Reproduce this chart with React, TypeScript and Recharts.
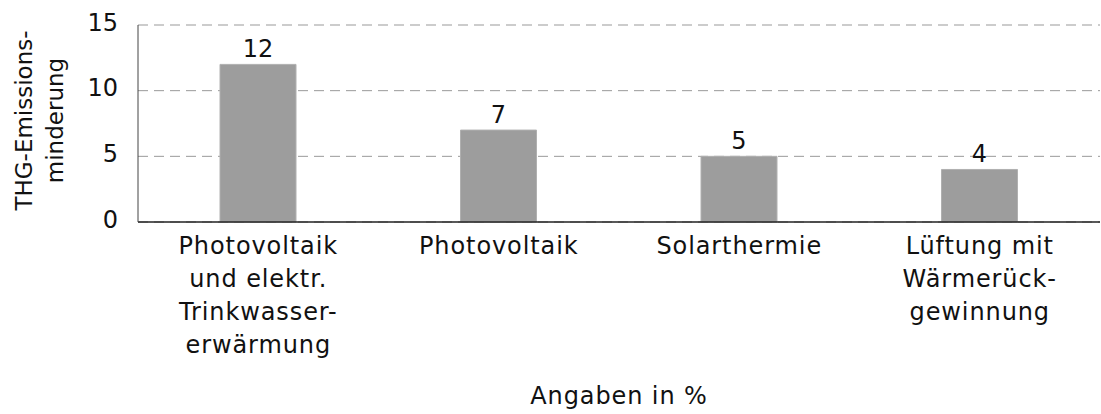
import React from 'react';
import { BarChart, Bar, XAxis, YAxis, CartesianGrid, LabelList } from 'recharts';

const categories = [
  ['Photovoltaik', 'und elektr.', 'Trinkwasser-', 'erwärmung'],
  ['Photovoltaik'],
  ['Solarthermie'],
  ['Lüftung mit', 'Wärmerück-', 'gewinnung'],
];
const values = [12, 7, 5, 4];
const yTicks = [0, 5, 10, 15];
const yTitle = ['THG-Emissions-', 'minderung'];
const xTitle = 'Angaben in %';

const data = categories.map((lines, i) => ({ name: String(i), lines, value: values[i] }));

const FONT = '"DejaVu Sans", sans-serif';

const CategoryTick = (props: any) => {
  const { x, y, payload } = props;
  const lines: string[] = categories[Number(payload.value)] || [];
  return (
    <g transform={`translate(${x},${y})`}>
      <text textAnchor="middle" fill="#111" fontSize={24} fontFamily={FONT} letterSpacing={0.9}>
        {lines.map((l, i) => (
          <tspan key={i} x={0} dy={i === 0 ? 24 : 33}>
            {l}
          </tspan>
        ))}
      </text>
    </g>
  );
};

const YTitle = (props: any) => {
  const { viewBox } = props;
  const cy = viewBox.y + viewBox.height / 2 - 3;
  return (
    <text
      transform={`translate(32,${cy}) rotate(-90)`}
      textAnchor="middle"
      fill="#111"
      fontSize={23}
      fontFamily={FONT}
    >
      {yTitle.map((l, i) => (
        <tspan key={i} x={0} dy={i === 0 ? 0 : 31}>
          {l}
        </tspan>
      ))}
    </text>
  );
};

export default function App() {
  return (
    <div style={{ position: 'absolute', left: 0, top: 0, background: '#fff' }}>
      <BarChart
        width={1101}
        height={414}
        data={data}
        margin={{ top: 25, right: 1, left: 0, bottom: 0 }}
        barSize={76}
      >
        <CartesianGrid vertical={false} stroke="#999" strokeDasharray="10 6" />
        <XAxis
          dataKey="name"
          tick={<CategoryTick />}
          tickLine={false}
          axisLine={{ stroke: '#222', strokeWidth: 1.5 }}
          height={192}
          interval={0}
          label={{
            value: xTitle,
            position: 'insideBottom',
            offset: 10,
            fill: '#111',
            fontSize: 24,
            fontFamily: FONT,
            letterSpacing: 0.9,
          }}
        />
        <YAxis
          domain={[0, 15]}
          ticks={yTicks}
          width={138}
          tickLine={false}
          axisLine={{ stroke: '#444' }}
          tick={{ fill: '#111', fontSize: 24, fontFamily: FONT, dy: -3 }}
          tickMargin={14}
          label={<YTitle />}
        />
        <Bar dataKey="value" fill="#9d9d9d" stroke="#b0b0b0" strokeWidth={1} isAnimationActive={false}>
          <LabelList
            dataKey="value"
            position="top"
            offset={7}
            fill="#111"
            fontSize={24}
            fontFamily={FONT}
          />
        </Bar>
      </BarChart>
    </div>
  );
}
